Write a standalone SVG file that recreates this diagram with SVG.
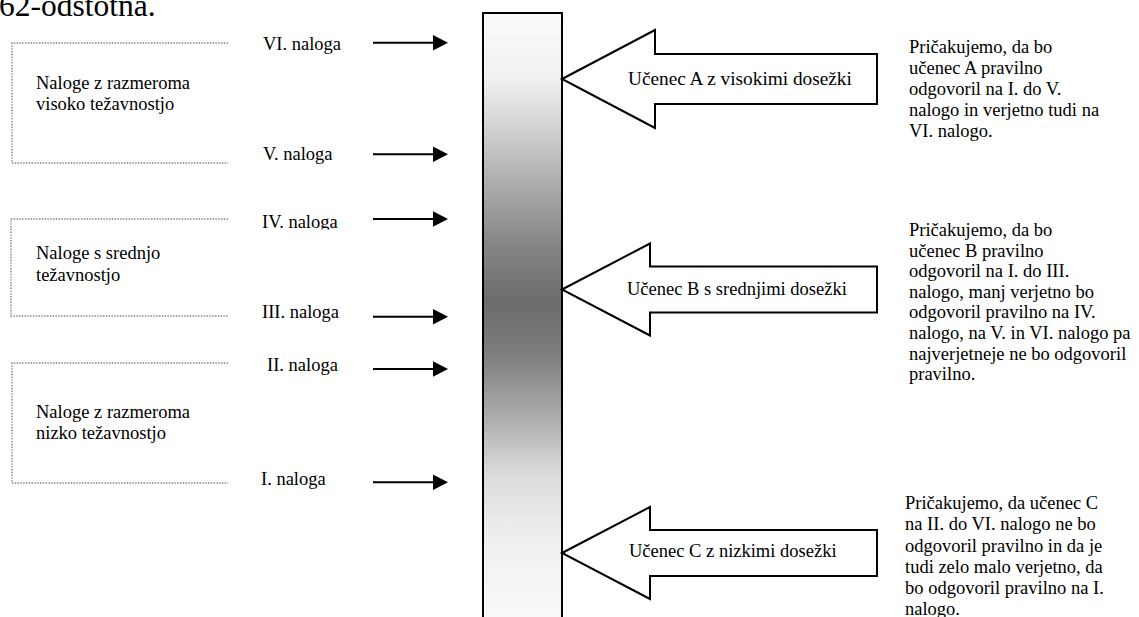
<svg xmlns="http://www.w3.org/2000/svg" width="1139" height="617" viewBox="0 0 1139 617">
<style>
text{font-family:"Liberation Serif","Times New Roman",serif;fill:#000;font-size:18.5px}
.box{fill:none;stroke:#808080;stroke-width:1.4;stroke-dasharray:1.4 1.4}
.sm{stroke:#000;stroke-width:2;fill:none}
.big{fill:#fff;stroke:#000;stroke-width:2;stroke-linejoin:miter}
</style>
<defs>
<linearGradient id="g" gradientUnits="userSpaceOnUse" x1="0" y1="13" x2="0" y2="617">
<stop offset="0" stop-color="#fbfbfb"/>
<stop offset="0.11" stop-color="#f0f0f0"/>
<stop offset="0.21" stop-color="#cacaca"/>
<stop offset="0.31" stop-color="#a2a2a2"/>
<stop offset="0.39" stop-color="#838383"/>
<stop offset="0.48" stop-color="#6c6c6c"/>
<stop offset="0.56" stop-color="#7c7c7c"/>
<stop offset="0.66" stop-color="#a8a8a8"/>
<stop offset="0.76" stop-color="#dadada"/>
<stop offset="0.86" stop-color="#eeeeee"/>
<stop offset="1" stop-color="#f9f9f9"/>
</linearGradient>
<marker id="ah" markerUnits="userSpaceOnUse" markerWidth="16" markerHeight="16" refX="1" refY="7.75" orient="auto" overflow="visible">
<path d="M0,0 L15,7.75 L0,15.5 z" fill="#000"/>
</marker>
<clipPath id="clipIV"><rect x="250" y="200" width="120" height="29.5"/></clipPath>
</defs>

<text x="-1" y="16" style="font-size:31.5px">62-odstotna.</text>

<g id="group-high">
<path class="box" d="M228,43 H12 V163 H228"/>
<text x="36" y="89">Naloge z razmeroma</text>
<text x="36" y="110">visoko težavnostjo</text>
</g>
<g id="group-mid">
<path class="box" d="M228,219 H11 V316 H228"/>
<text x="36" y="259">Naloge s srednjo</text>
<text x="36" y="281">težavnostjo</text>
</g>
<g id="group-low">
<path class="box" d="M228,363 H12 V483 H228"/>
<text x="36" y="418">Naloge z razmeroma</text>
<text x="36" y="439">nizko težavnostjo</text>
</g>

<g id="task-6"><text x="263" y="50">VI. naloga</text></g>
<g id="task-5"><text x="263" y="160">V. naloga</text></g>
<g id="task-4"><text x="262" y="228" clip-path="url(#clipIV)">IV. naloga</text></g>
<g id="task-3"><text x="262" y="318">III. naloga</text></g>
<g id="task-2"><text x="267" y="371">II. naloga</text></g>
<g id="task-1"><text x="261" y="485">I. naloga</text></g>

<g id="scale-bar">
<rect x="483" y="13" width="79" height="610" fill="url(#g)" stroke="#000" stroke-width="2"/>
</g>

<g id="connectors">
<line class="sm" x1="373" y1="42.7" x2="434" y2="42.7" marker-end="url(#ah)"/>
<line class="sm" x1="373" y1="154.3" x2="434" y2="154.3" marker-end="url(#ah)"/>
<line class="sm" x1="373" y1="219" x2="434" y2="219" marker-end="url(#ah)"/>
<line class="sm" x1="373" y1="316.7" x2="434" y2="316.7" marker-end="url(#ah)"/>
<line class="sm" x1="373" y1="369" x2="434" y2="369" marker-end="url(#ah)"/>
<line class="sm" x1="373" y1="482.3" x2="434" y2="482.3" marker-end="url(#ah)"/>
</g>

<g id="student-a">
<polygon class="big" points="562,79 655,30 655,54 877,54 877,104 655,104 655,128"/>
<text x="628" y="85" style="font-size:19.3px">Učenec A z visokimi dosežki</text>
</g>
<g id="student-b">
<polygon class="big" points="562,289.5 650,243.5 650,266.5 877,266.5 877,312.5 650,312.5 650,335.5"/>
<text x="627" y="295">Učenec B s srednjimi dosežki</text>
</g>
<g id="student-c">
<polygon class="big" points="562,553 650,507 650,530 877,530 877,576 650,576 650,599"/>
<text x="629" y="557">Učenec C z nizkimi dosežki</text>
</g>

<g id="note-a">
<text x="909" y="53">Pričakujemo, da bo</text>
<text x="909" y="74">učenec A pravilno</text>
<text x="909" y="95">odgovoril na I. do V.</text>
<text x="909" y="116">nalogo in verjetno tudi na</text>
<text x="909" y="137">VI. nalogo.</text>
</g>
<g id="note-b">
<text x="909" y="236">Pričakujemo, da bo</text>
<text x="909" y="257">učenec B pravilno</text>
<text x="909" y="277">odgovoril na I. do III.</text>
<text x="909" y="298">nalogo, manj verjetno bo</text>
<text x="909" y="318">odgovoril pravilno na IV.</text>
<text x="909" y="339">nalogo, na V. in VI. nalogo pa</text>
<text x="909" y="360">najverjetneje ne bo odgovoril</text>
<text x="909" y="380">pravilno.</text>
</g>
<g id="note-c">
<text x="905" y="509">Pričakujemo, da učenec C</text>
<text x="905" y="530">na II. do VI. nalogo ne bo</text>
<text x="905" y="551.5">odgovoril pravilno in da je</text>
<text x="905" y="572.5">tudi zelo malo verjetno, da</text>
<text x="905" y="594">bo odgovoril pravilno na I.</text>
<text x="905" y="615">nalogo.</text>
</g>
</svg>
